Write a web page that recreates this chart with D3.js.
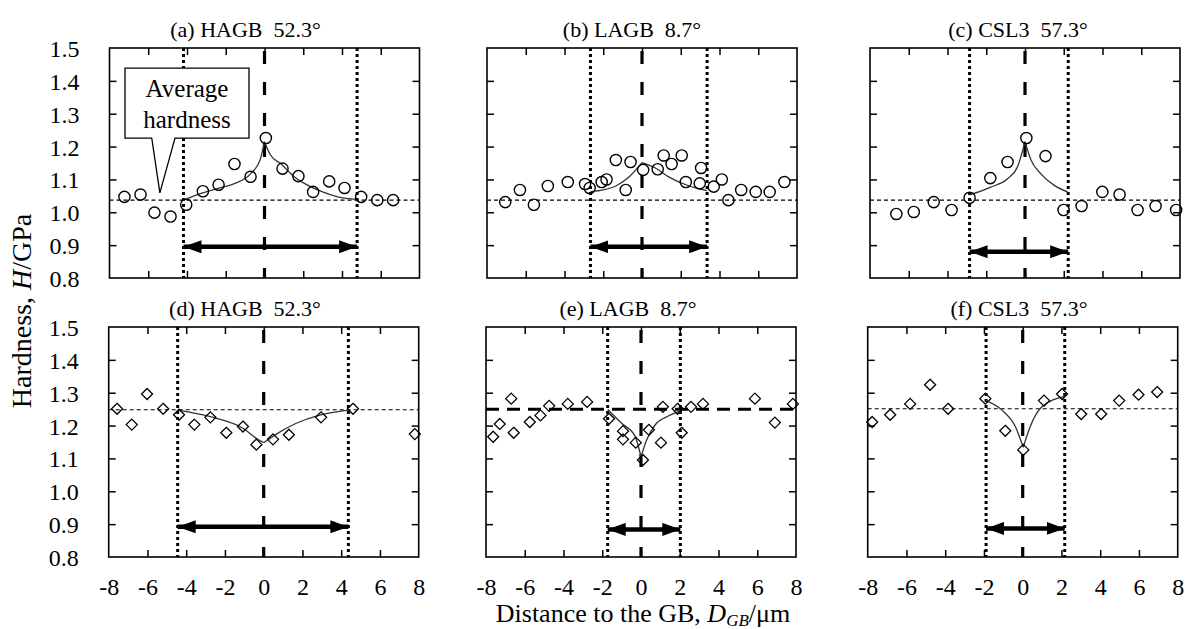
<!DOCTYPE html>
<html>
<head>
<meta charset="utf-8">
<script src="https://cdn.jsdelivr.net/npm/d3@7"></script>
<style>
body { margin: 0; background: #fff; }
text { font-family: "Liberation Serif", "Times New Roman", serif; fill: #000; white-space: pre; }
</style>
</head>
<body>
<svg width="1186" height="629"></svg>
<script>
// tick values
const xTicks = [-8, -6, -4, -2, 0, 2, 4, 6, 8];
const yTicks = [0.8, 0.9, 1.0, 1.1, 1.2, 1.3, 1.4, 1.5];

const titles = ['(a) HAGB  52.3°', '(b) LAGB  8.7°', '(c) CSL3  57.3°',
                '(d) HAGB  52.3°', '(e) LAGB  8.7°', '(f) CSL3  57.3°'];

// measured hardness [distance, H]
const ptsA = [[-7.23,1.047],[-6.40,1.054],[-5.68,0.999],[-4.85,0.987],[-4.04,1.023],[-3.18,1.064],
  [-2.37,1.084],[-1.55,1.147],[-0.72,1.108],[0.07,1.226],[0.93,1.133],[1.75,1.110],[2.51,1.062],
  [3.34,1.094],[4.13,1.074],[4.99,1.047],[5.82,1.037],[6.64,1.037]];
const ptsB = [[-7.06,1.031],[-6.30,1.068],[-5.58,1.023],[-4.86,1.080],[-3.83,1.092],[-2.94,1.086],
  [-2.70,1.074],[-2.08,1.092],[-1.83,1.100],[-1.35,1.159],[-0.84,1.068],[-0.59,1.153],[0.06,1.129],
  [0.81,1.131],[1.12,1.173],[1.53,1.147],[2.05,1.173],[2.26,1.092],[2.98,1.088],[3.05,1.135],
  [3.70,1.078],[4.12,1.100],[4.46,1.037],[5.12,1.068],[5.87,1.062],[6.59,1.062],[7.35,1.092]];
const ptsC = [[-6.64,0.995],[-5.74,1.001],[-4.71,1.031],[-3.79,1.007],[-2.86,1.044],[-1.79,1.104],
  [-0.90,1.153],[0.07,1.226],[1.06,1.171],[1.99,1.007],[2.92,1.019],[3.99,1.062],[4.88,1.054],
  [5.81,1.007],[6.74,1.019],[7.80,1.007]];
const ptsD = [[-7.57,1.251],[-6.81,1.203],[-6.02,1.296],[-5.19,1.251],[-4.37,1.233],[-3.58,1.203],
  [-2.75,1.225],[-1.93,1.178],[-1.07,1.197],[-0.38,1.142],[0.48,1.158],[1.30,1.172],[2.96,1.225],
  [4.61,1.251],[7.80,1.174]];
const ptsE = [[-7.63,1.166],[-7.29,1.205],[-6.70,1.282],[-6.57,1.178],[-5.74,1.211],[-5.19,1.231],
  [-4.74,1.260],[-3.78,1.266],[-2.78,1.272],[-1.65,1.221],[-0.93,1.183],[-0.93,1.158],[-0.27,1.148],
  [0.10,1.095],[0.41,1.187],[1.03,1.148],[1.13,1.257],[1.89,1.251],[2.10,1.178],[2.58,1.257],
  [3.20,1.266],[5.88,1.282],[6.91,1.209],[7.84,1.266]];
const ptsF = [[-7.77,1.211],[-6.84,1.233],[-5.81,1.266],[-4.78,1.324],[-3.85,1.251],[-1.93,1.282],
  [-0.90,1.184],[0.03,1.126],[1.10,1.276],[2.03,1.296],[3.02,1.235],[4.05,1.235],[4.98,1.276],
  [5.98,1.294],[6.94,1.302]];

// fitted curves, left and right of the GB
const fitA = [[[-4.18,1.037],[-3.24,1.058],[-2.4,1.073],[-1.52,1.088],[-0.72,1.117],[-0.23,1.159],[0,1.215]],
              [[0,1.215],[0.3,1.175],[0.86,1.147],[1.5,1.11],[2.06,1.088],[3,1.062],[3.78,1.047],[4.78,1.039]]];
const fitB = [[[-2.66,1.063],[-2,1.068],[-1.35,1.08],[-0.66,1.108],[0,1.151]],
              [[0,1.151],[0.71,1.134],[1.4,1.107],[2.43,1.08],[3.36,1.066]]];
const fitC = [[[-2.86,1.053],[-1.79,1.076],[-0.9,1.102],[-0.38,1.139],[0,1.215]],
              [[0,1.215],[0.31,1.159],[0.82,1.117],[1.51,1.082],[2.2,1.062]]];
const fitD = [[[-4.44,1.247],[-2.75,1.227],[-1.07,1.192],[-0.2,1.154],[0,1.148]],
              [[0,1.148],[0.65,1.174],[1.68,1.207],[2.89,1.232],[4.37,1.247]]];
const fitE = [[[-1.72,1.249],[-1,1.207],[-0.31,1.168],[0,1.105]],
              [[0,1.105],[0.29,1.156],[0.72,1.201],[1.41,1.229],[2.03,1.245]]];
const fitF = [[[-1.89,1.276],[-1.07,1.247],[-0.38,1.197],[0.03,1.134]],
              [[0.03,1.134],[0.39,1.197],[0.99,1.257],[2.13,1.288]]];

const avgH = [1.037, 1.037, 1.037, 1.248, 1.250, 1.251];
const zoneLeft = [-4.18, -2.66, -2.86, -4.44, -1.72, -1.89];
const zoneRight = [4.78, 3.36, 2.23, 4.37, 2.03, 2.17];
const arrowH = [0.895, 0.895, 0.880, 0.892, 0.884, 0.887];

const points = [ptsA, ptsB, ptsC, ptsD, ptsE, ptsF];
const fits = [fitA, fitB, fitC, fitD, fitE, fitF];

// layout
const svg = d3.select('svg');
const pw = 310, ph = 230;
const panelLeft = [109.5, 487, 870, 108.7, 486, 867.7];
const panelTop = [48, 48, 48, 327, 327, 327];
const titleX = [245.5, 632, 1018, 245, 628, 1019];

svg.append('defs').append('marker')
    .attr('id', 'head')
    .attr('viewBox', '0 0 18 13')
    .attr('markerUnits', 'userSpaceOnUse')
    .attr('markerWidth', 18)
    .attr('markerHeight', 13)
    .attr('refX', 18)
    .attr('refY', 6.5)
    .attr('orient', 'auto-start-reverse')
  .append('path')
    .attr('d', 'M0,0 L18,6.5 L0,13 Z')
    .attr('fill', '#000');

const diamond = 'M0,-5.5 L5.5,0 L0,5.5 L-5.5,0 Z';

points.forEach((pts, i) => {
    const x = d3.scaleLinear().domain([-8, 8]).range([0, pw]);
    const y = d3.scaleLinear().domain([0.8, 1.5]).range([ph, 0]);
    const g = svg.append('g')
        .attr('transform', `translate(${panelLeft[i]},${panelTop[i]})`);

    // inner ticks on all four sides
    const inner = [
        [d3.axisBottom(x), `translate(0,${ph})`, xTicks.slice(1, -1)],
        [d3.axisTop(x), 'translate(0,0)', xTicks.slice(1, -1)],
        [d3.axisLeft(y), 'translate(0,0)', yTicks.slice(1, -1)],
        [d3.axisRight(y), `translate(${pw},0)`, yTicks.slice(1, -1)]
    ];
    inner.forEach(([ax, tr, vals]) => {
        const a = g.append('g').attr('transform', tr)
            .call(ax.tickValues(vals).tickSize(-7).tickFormat(''));
        a.select('.domain').remove();
        a.selectAll('line').attr('stroke', '#000').attr('stroke-width', 1.5);
    });

    if (i % 3 === 0) {
        const yl = g.append('g')
            .call(d3.axisLeft(y).tickValues(yTicks).tickSize(0).tickPadding(30).tickFormat(d3.format('.1f')));
        yl.select('.domain').remove();
        yl.attr('font-family', null);
        yl.selectAll('text').attr('font-size', 24).attr('dy', '8.5');
    }
    if (i >= 3) {
        const xl = g.append('g').attr('transform', `translate(0,${ph})`)
            .call(d3.axisBottom(x).tickValues(xTicks).tickSize(0).tickPadding(0).tickFormat(d => String(d)));
        xl.select('.domain').remove();
        xl.attr('font-family', null);
        xl.selectAll('text').attr('font-size', 24).attr('y', 38).attr('dy', 0);
    }

    // average hardness
    const thickAvg = i === 4;
    g.append('line')
        .attr('x1', x(-8)).attr('x2', x(8))
        .attr('y1', y(avgH[i])).attr('y2', y(avgH[i]))
        .attr('stroke', '#000')
        .attr('stroke-width', thickAvg ? 3 : 1.1)
        .attr('stroke-dasharray', thickAvg ? '13,8' : '4,3');

    // affected zone boundaries
    [zoneLeft[i], zoneRight[i]].forEach(v => {
        g.append('line')
            .attr('x1', x(v)).attr('x2', x(v))
            .attr('y1', 0).attr('y2', ph)
            .attr('stroke', '#000')
            .attr('stroke-width', 3)
            .attr('stroke-dasharray', '3,3');
    });

    // grain boundary
    g.append('line')
        .attr('x1', x(0)).attr('x2', x(0))
        .attr('y1', 0).attr('y2', ph)
        .attr('stroke', '#000')
        .attr('stroke-width', 3.2)
        .attr('stroke-dasharray', '13,18')
        .attr('stroke-dashoffset', -3);

    g.append('line')
        .attr('x1', x(zoneLeft[i])).attr('x2', x(zoneRight[i]))
        .attr('y1', y(arrowH[i])).attr('y2', y(arrowH[i]))
        .attr('stroke', '#000')
        .attr('stroke-width', 4.5)
        .attr('marker-start', 'url(#head)')
        .attr('marker-end', 'url(#head)');

    const line = d3.line().x(d => x(d[0])).y(d => y(d[1])).curve(d3.curveMonotoneX);
    fits[i].forEach(seg => {
        g.append('path')
            .attr('d', line(seg))
            .attr('fill', 'none')
            .attr('stroke', '#333')
            .attr('stroke-width', 1.3);
    });

    if (i < 3) {
        g.selectAll('circle.pt').data(pts).enter().append('circle')
            .attr('class', 'pt')
            .attr('cx', d => x(d[0]))
            .attr('cy', d => y(d[1]))
            .attr('r', 5.6)
            .attr('fill', 'none')
            .attr('stroke', '#000')
            .attr('stroke-width', 1.4);
    } else {
        g.selectAll('path.pt').data(pts).enter().append('path')
            .attr('class', 'pt')
            .attr('d', diamond)
            .attr('transform', d => `translate(${x(d[0])},${y(d[1])})`)
            .attr('fill', 'none')
            .attr('stroke', '#000')
            .attr('stroke-width', 1.3);
    }

    if (i === 0) {
        // "Average hardness" callout
        const box = { x0: -7.2, x1: -0.8, y0: 1.439, y1: 1.226, b0: -5.82, b1: -4.62, tipX: -5.4, tipY: 1.059 };
        const p = d3.path();
        p.moveTo(x(box.x0), y(box.y0));
        p.lineTo(x(box.x1), y(box.y0));
        p.lineTo(x(box.x1), y(box.y1));
        p.lineTo(x(box.b1), y(box.y1));
        p.lineTo(x(box.tipX), y(box.tipY));
        p.lineTo(x(box.b0), y(box.y1));
        p.lineTo(x(box.x0), y(box.y1));
        p.closePath();
        g.append('path').attr('d', p.toString())
            .attr('fill', '#fff').attr('stroke', '#000').attr('stroke-width', 1.3);
        g.append('text').attr('x', x(-4)).attr('y', 49).attr('text-anchor', 'middle')
            .attr('font-size', 25).text('Average');
        g.append('text').attr('x', x(-4)).attr('y', 80).attr('text-anchor', 'middle')
            .attr('font-size', 25).text('hardness');
    }

    g.append('rect')
        .attr('width', pw).attr('height', ph)
        .attr('fill', 'none').attr('stroke', '#000').attr('stroke-width', 1.6);

    svg.append('text')
        .attr('x', titleX[i]).attr('y', panelTop[i] - 11)
        .attr('text-anchor', 'middle')
        .attr('font-size', 22)
        .text(titles[i]);
});

const xLab = svg.append('text')
    .attr('x', 643).attr('y', 622)
    .attr('text-anchor', 'middle')
    .attr('font-size', 26);
xLab.append('tspan').text('Distance to the GB, ');
xLab.append('tspan').attr('font-style', 'italic').text('D');
xLab.append('tspan').attr('font-style', 'italic').attr('font-size', 17).attr('dy', 4).text('GB');
xLab.append('tspan').attr('dy', -4).text('/μm');

const yLab = svg.append('text')
    .attr('transform', 'translate(31,311) rotate(-90)')
    .attr('text-anchor', 'middle')
    .attr('font-size', 28);
yLab.append('tspan').text('Hardness, ');
yLab.append('tspan').attr('font-style', 'italic').text('H');
yLab.append('tspan').text('/GPa');
</script>
</body>
</html>
